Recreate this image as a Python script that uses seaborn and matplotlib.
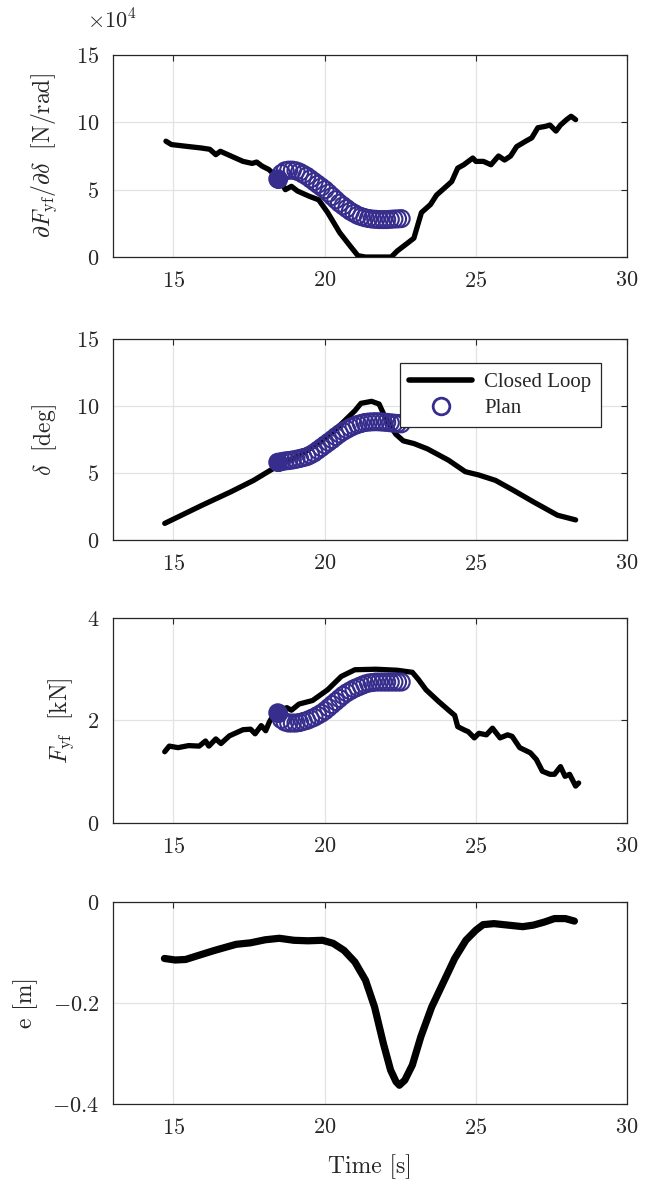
import numpy as np
import seaborn as sns
import matplotlib.pyplot as plt
import pandas as pd
from matplotlib.lines import Line2D

# closed loop: cornering stiffness (x1e4 N/rad)
t_stiff = [14.75, 14.93, 15.5, 15.9, 16.2, 16.4, 16.55, 16.9, 17.3, 17.6, 17.75, 17.93,
           18.15, 18.35, 18.55, 18.7, 18.9, 19.1, 19.5, 19.8, 20.1, 20.5, 20.85, 21.1,
           21.35, 21.75, 22.2, 22.4, 22.75, 22.95, 23.2, 23.5, 23.7, 23.95, 24.2, 24.4,
           24.6, 24.9, 25.0, 25.25, 25.5, 25.75, 25.95, 26.15, 26.35, 26.65, 26.85, 27.05,
           27.3, 27.45, 27.65, 27.8, 28.0, 28.15, 28.3]
stiff_cl = [8.6, 8.35, 8.2, 8.1, 8.0, 7.6, 7.85, 7.5, 7.1, 6.95, 7.05, 6.75,
            6.5, 6.1, 5.6, 5.0, 5.25, 4.9, 4.5, 4.25, 3.3, 1.8, 0.8, 0.1,
            0.0, 0.0, 0.0, 0.45, 1.05, 1.4, 3.3, 3.9, 4.6, 5.1, 5.6, 6.6,
            6.85, 7.35, 7.1, 7.1, 6.85, 7.5, 7.2, 7.5, 8.2, 8.6, 8.85, 9.6,
            9.7, 9.8, 9.35, 9.8, 10.2, 10.45, 10.2]

# closed loop: steering angle (deg)
t_delta = [14.71, 15.95, 16.9, 17.65, 18.2, 18.6, 19.15, 19.85, 20.5, 21.0, 21.2, 21.55,
           21.8, 22.0, 22.35, 22.6, 22.95, 23.4, 24.1, 24.65, 25.1, 25.65, 26.25, 26.9,
           27.7, 28.3]
delta_cl = [1.24, 2.6, 3.6, 4.45, 5.2, 5.7, 6.3, 7.3, 8.55, 9.65, 10.2, 10.35,
            10.15, 9.15, 7.9, 7.4, 7.2, 6.8, 5.95, 5.1, 4.85, 4.45, 3.7, 2.85,
            1.85, 1.5]

# closed loop: front lateral force (kN)
t_force = [14.71, 14.86, 15.15, 15.5, 15.85, 16.06, 16.17, 16.4, 16.57, 16.85, 17.3, 17.55,
           17.7, 17.9, 18.05, 18.17, 18.3, 18.5, 18.75, 18.9, 19.15, 19.6, 20.1, 20.55,
           21.0, 21.7, 22.4, 22.9, 23.1, 23.35, 23.75, 24.1, 24.3, 24.4, 24.6, 24.75,
           24.95, 25.1, 25.35, 25.55, 25.8, 26.05, 26.2, 26.45, 26.8, 27.0, 27.2, 27.45,
           27.6, 27.8, 27.95, 28.1, 28.3, 28.4]
force_cl = [1.39, 1.5, 1.47, 1.51, 1.5, 1.6, 1.5, 1.64, 1.55, 1.7, 1.82, 1.83,
            1.74, 1.9, 1.8, 1.97, 2.1, 2.2, 2.25, 2.2, 2.32, 2.39, 2.6, 2.86,
            2.99, 3.0, 2.98, 2.94, 2.8, 2.6, 2.38, 2.2, 2.1, 1.88, 1.82, 1.78,
            1.66, 1.75, 1.72, 1.85, 1.66, 1.72, 1.69, 1.47, 1.37, 1.24, 1.01, 0.95,
            0.95, 1.1, 0.91, 0.95, 0.72, 0.78]

# closed loop: lateral error (m)
t_err = [14.7, 15.06, 15.4, 15.77, 16.36, 17.07, 17.55, 18.03, 18.5, 18.98, 19.45, 19.93,
         20.28, 20.64, 21.0, 21.35, 21.65, 21.94, 22.18, 22.36, 22.47, 22.65, 22.9, 23.18,
         23.54, 23.96, 24.3, 24.67, 25.0, 25.24, 25.6, 26.07, 26.55, 26.9, 27.26, 27.6,
         27.96, 28.26]
err_cl = [-0.112, -0.115, -0.114, -0.107, -0.096, -0.084, -0.081, -0.075, -0.072, -0.076, -0.077, -0.076,
          -0.082, -0.096, -0.119, -0.155, -0.208, -0.28, -0.333, -0.356, -0.363, -0.353, -0.323, -0.267,
          -0.208, -0.155, -0.112, -0.076, -0.056, -0.045, -0.043, -0.046, -0.049, -0.046, -0.040, -0.033,
          -0.033, -0.038]

# plan (MPC prediction)
t_plan = [18.45, 18.57, 18.69, 18.81, 18.93, 19.05, 19.17, 19.29, 19.41, 19.53, 19.65, 19.77,
          19.89, 20.01, 20.13, 20.25, 20.37, 20.49, 20.61, 20.73, 20.85, 20.97, 21.09, 21.21,
          21.33, 21.45, 21.57, 21.69, 21.81, 21.93, 22.05, 22.17, 22.29, 22.41, 22.53]
stiff_plan = [5.8, 6.2, 6.4, 6.45, 6.45, 6.4, 6.3, 6.15, 6.0, 5.8, 5.6, 5.4,
              5.2, 5.0, 4.75, 4.5, 4.25, 4.0, 3.8, 3.6, 3.4, 3.25, 3.1, 3.0,
              2.92, 2.86, 2.82, 2.8, 2.78, 2.78, 2.78, 2.8, 2.82, 2.83, 2.85]
delta_plan = [5.8, 5.85, 5.9, 5.93, 5.97, 6.02, 6.08, 6.15, 6.22, 6.35, 6.5, 6.7,
              6.9, 7.1, 7.3, 7.5, 7.72, 7.92, 8.1, 8.25, 8.4, 8.52, 8.62, 8.7,
              8.77, 8.8, 8.82, 8.83, 8.82, 8.8, 8.78, 8.75, 8.72, 8.7, 8.67]
force_plan = [2.15, 2.02, 1.97, 1.95, 1.95, 1.95, 1.96, 1.98, 2.0, 2.03, 2.06, 2.1,
              2.14, 2.19, 2.25, 2.31, 2.37, 2.43, 2.49, 2.54, 2.58, 2.62, 2.65, 2.68,
              2.71, 2.73, 2.74, 2.75, 2.75, 2.75, 2.75, 2.75, 2.75, 2.75, 2.75]

xticks = [15, 20, 25, 30]
purple = '#362d8c'
dark = '#262626'

sns.set_theme(style='whitegrid')
plt.rcParams['font.family'] = ['cmr10']
plt.rcParams['mathtext.fontset'] = 'cm'
plt.rcParams['axes.formatter.use_mathtext'] = True

fig = plt.figure(figsize=(6.59, 11.85), dpi=100)
boxes = [[0.1715, 0.7831, 0.78, 0.1705],
         [0.1715, 0.5443, 0.78, 0.1696],
         [0.1715, 0.3055, 0.78, 0.1730],
         [0.1715, 0.0684, 0.78, 0.1705]]
axes = [fig.add_axes(b) for b in boxes]

panels = [
    (t_stiff, stiff_cl, stiff_plan, (0, 15), [0, 5, 10, 15], ['0', '5', '10', '15'],
     r'$\partial F_{\mathrm{yf}}/\partial\delta\ \ [\mathrm{N/rad}]$', 12),
    (t_delta, delta_cl, delta_plan, (0, 15), [0, 5, 10, 15], ['0', '5', '10', '15'],
     r'$\delta\ \ [\mathrm{deg}]$', 12),
    (t_force, force_cl, force_plan, (0, 4), [0, 2, 4], ['0', '2', '4'],
     r'$F_{\mathrm{yf}}\ \ [\mathrm{kN}]$', 8),
    (t_err, err_cl, None, (-0.4, 0), [-0.4, -0.2, 0], ['-0.4', '-0.2', '0'],
     'e [m]', 10),
]

for ax, (tx, yv, plan, ylim, yt, ytl, ylab, lpad) in zip(axes, panels):
    cl = pd.DataFrame({'t': tx, 'v': yv})
    sns.lineplot(data=cl, x='t', y='v', ax=ax, color='black', lw=5.2 if plan is None else 3.8,
                 sort=False, estimator=None, zorder=3)
    if plan is not None:
        pl = pd.DataFrame({'t': t_plan, 'v': plan})
        sns.scatterplot(data=pl, x='t', y='v', ax=ax, s=150, marker='o', fc='none',
                        ec=purple, linewidth=1.5, zorder=4)
        sns.scatterplot(data=pl.iloc[:1], x='t', y='v', ax=ax, s=150, marker='o',
                        color=purple, ec=purple, linewidth=1.5, zorder=4)
    ax.set_xlim(13, 30)
    ax.set_ylim(*ylim)
    ax.set_xticks(xticks)
    ax.set_xticklabels([f'${v}$' for v in xticks])
    ax.set_yticks(yt)
    ax.set_yticklabels([f'${s}$' for s in ytl])
    ax.set_xlabel('')
    ax.set_ylabel(ylab, fontsize=17, color=dark, labelpad=lpad)
    ax.grid(True, color='#e3e3e3', lw=0.9)
    ax.set_axisbelow(True)
    ax.tick_params(direction='in', top=True, right=True, length=4, width=0.8,
                   color=dark, labelsize=16, labelcolor=dark, pad=10)
    for sp in ax.spines.values():
        sp.set_color(dark)
        sp.set_linewidth(0.9)

axes[3].set_xlabel('Time [s]', fontsize=17, color=dark, labelpad=12)
axes[0].text(-0.05, 1.17, r'$\times10^4$', transform=axes[0].transAxes,
             fontsize=16, color=dark, ha='left', va='center')

handles = [Line2D([], [], color='black', lw=4),
           Line2D([], [], color=purple, marker='o', ls='', mfc='none', mec=purple,
                  ms=12, mew=2)]
leg = axes[1].legend(handles, ['Closed Loop', 'Plan'], loc='upper right',
                     bbox_to_anchor=(0.949, 0.88), borderaxespad=0, frameon=True,
                     fancybox=False, framealpha=1, edgecolor=dark, borderpad=0.45,
                     handlelength=3, handletextpad=0.6, labelspacing=0.3,
                     prop={'family': 'Liberation Serif', 'size': 15})
leg.get_frame().set_linewidth(0.9)
leg.set_zorder(10)

fig.savefig('out.png', dpi=100)
